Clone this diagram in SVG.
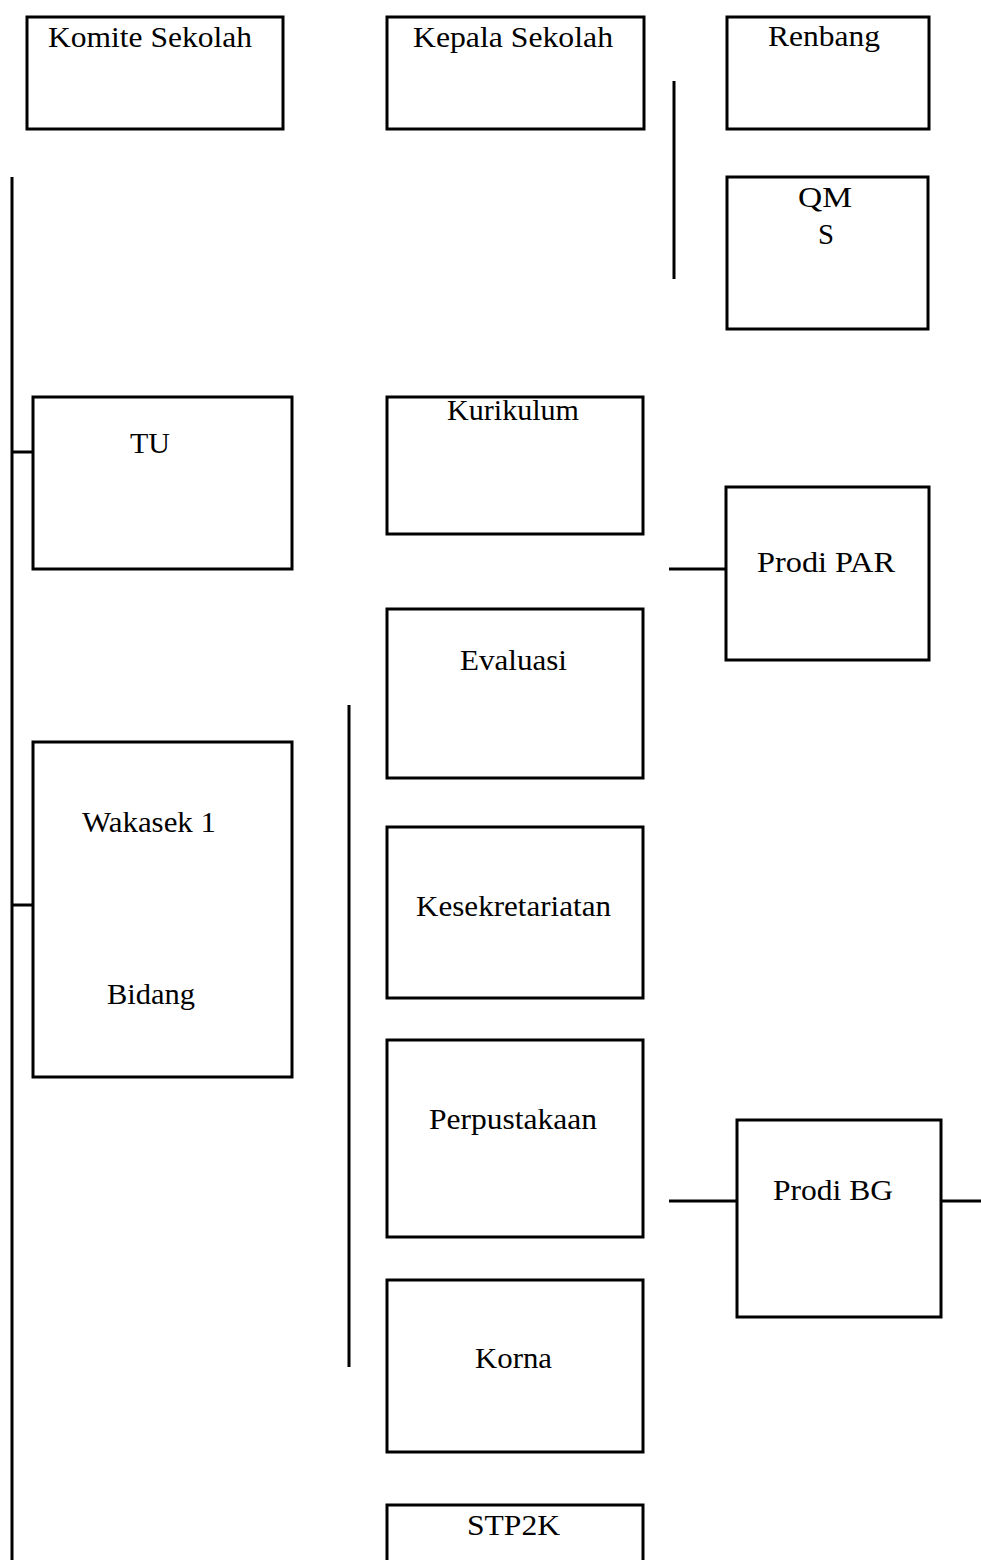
<svg xmlns="http://www.w3.org/2000/svg" width="981" height="1560" viewBox="0 0 981 1560">
<style>
.box{fill:#fff;stroke:#000;stroke-width:3}
.ln{stroke:#000;stroke-width:3;fill:none}
.t{font-family:"Liberation Serif","Times New Roman",serif;font-size:29px;fill:#000}
</style>
<rect x="0" y="0" width="981" height="1560" fill="#fff"/>
<g id="connectors">
<line class="ln" x1="12" y1="177" x2="12" y2="1560"/>
<line class="ln" x1="12" y1="452" x2="33" y2="452"/>
<line class="ln" x1="12" y1="905" x2="33" y2="905"/>
<line class="ln" x1="674" y1="81" x2="674" y2="279"/>
<line class="ln" x1="349" y1="705" x2="349" y2="1367"/>
<line class="ln" x1="669" y1="569" x2="726" y2="569"/>
<line class="ln" x1="669" y1="1201" x2="737" y2="1201"/>
<line class="ln" x1="941" y1="1201" x2="981" y2="1201"/>
</g>
<g id="komite"><rect class="box" x="27" y="17" width="256" height="112"/><text class="t" x="48" y="47" textLength="204" lengthAdjust="spacingAndGlyphs">Komite Sekolah</text></g>
<g id="kepala"><rect class="box" x="387" y="17" width="257" height="112"/><text class="t" x="413" y="47" textLength="200" lengthAdjust="spacingAndGlyphs">Kepala Sekolah</text></g>
<g id="renbang"><rect class="box" x="727" y="17" width="202" height="112"/><text class="t" x="768" y="46" textLength="112" lengthAdjust="spacingAndGlyphs">Renbang</text></g>
<g id="qms"><rect class="box" x="727" y="177" width="201" height="152"/><text class="t" x="798" y="207" textLength="54" lengthAdjust="spacingAndGlyphs">QM</text><text class="t" x="818" y="244" textLength="16" lengthAdjust="spacingAndGlyphs">S</text></g>
<g id="tu"><rect class="box" x="33" y="397" width="259" height="172"/><text class="t" x="130" y="453" textLength="40" lengthAdjust="spacingAndGlyphs">TU</text></g>
<g id="wakasek"><rect class="box" x="33" y="742" width="259" height="335"/><text class="t" x="82" y="832" textLength="134" lengthAdjust="spacingAndGlyphs">Wakasek 1</text><text class="t" x="107" y="1004" textLength="88" lengthAdjust="spacingAndGlyphs">Bidang</text></g>
<g id="kurikulum"><rect class="box" x="387" y="397" width="256" height="137"/><text class="t" x="447" y="420" textLength="132" lengthAdjust="spacingAndGlyphs">Kurikulum</text></g>
<g id="evaluasi"><rect class="box" x="387" y="609" width="256" height="169"/><text class="t" x="460" y="670" textLength="107" lengthAdjust="spacingAndGlyphs">Evaluasi</text></g>
<g id="kesekretariatan"><rect class="box" x="387" y="827" width="256" height="171"/><text class="t" x="416" y="916" textLength="195" lengthAdjust="spacingAndGlyphs">Kesekretariatan</text></g>
<g id="perpustakaan"><rect class="box" x="387" y="1040" width="256" height="197"/><text class="t" x="429" y="1129" textLength="168" lengthAdjust="spacingAndGlyphs">Perpustakaan</text></g>
<g id="korna"><rect class="box" x="387" y="1280" width="256" height="172"/><text class="t" x="475" y="1368" textLength="77" lengthAdjust="spacingAndGlyphs">Korna</text></g>
<g id="stp2k"><rect class="box" x="387" y="1505" width="256" height="100"/><text class="t" x="467" y="1535" textLength="93" lengthAdjust="spacingAndGlyphs">STP2K</text></g>
<g id="prodi-par"><rect class="box" x="726" y="487" width="203" height="173"/><text class="t" x="757" y="572" textLength="138" lengthAdjust="spacingAndGlyphs">Prodi PAR</text></g>
<g id="prodi-bg"><rect class="box" x="737" y="1120" width="204" height="197"/><text class="t" x="773" y="1200" textLength="120" lengthAdjust="spacingAndGlyphs">Prodi BG</text></g>
</svg>
